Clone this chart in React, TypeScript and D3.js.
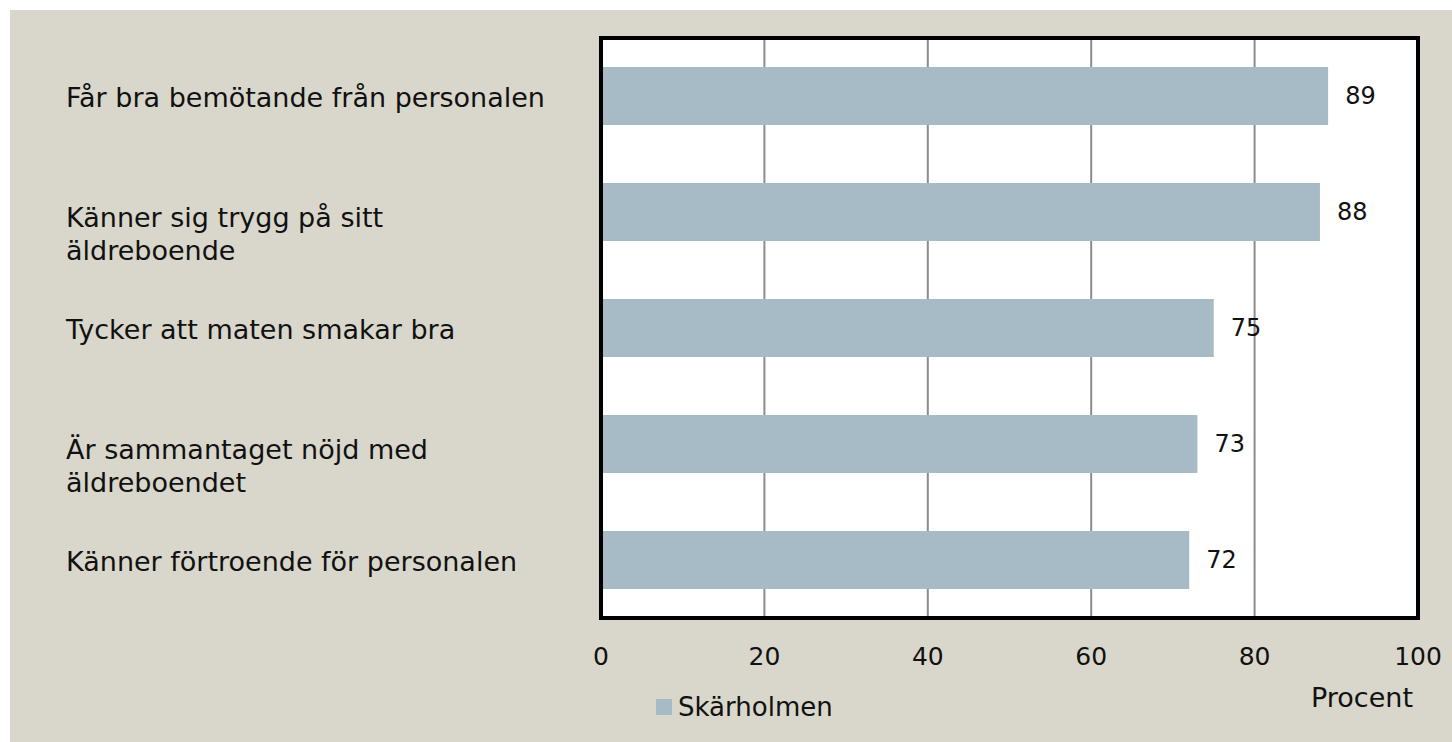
import { scaleBand, scaleLinear } from "d3";

const categories = [
  ["Får bra bemötande från personalen"],
  ["Känner sig trygg på sitt", "äldreboende"],
  ["Tycker att maten smakar bra"],
  ["Är sammantaget nöjd med", "äldreboendet"],
  ["Känner förtroende för personalen"],
];
const values = [89, 88, 75, 73, 72];
const xTicks = [0, 20, 40, 60, 80, 100];
const seriesName = "Skärholmen";
const axisTitle = "Procent";

const W = 1452;
const H = 742;
const plot = { left: 601, right: 1418, top: 38, bottom: 618 };
const FONT = "'DejaVu Sans', sans-serif";
const BAR = "#a7bbc6";
const BG = "#d9d7cb";
const INK = "#111";

export default function App() {
  const x = scaleLinear().domain([0, 100]).range([plot.left, plot.right]);
  const y = scaleBand<number>()
    .domain(values.map((_, i) => i))
    .range([plot.top, plot.bottom])
    .paddingInner(0.5)
    .paddingOuter(0.25);

  return (
    <svg
      width={W}
      height={H}
      style={{ position: "absolute", left: 0, top: 0, background: "#fff" }}
      fontFamily={FONT}
    >
      <rect x={10} y={10} width={W - 10} height={H - 10} fill={BG} />
      <rect
        x={plot.left}
        y={plot.top}
        width={plot.right - plot.left}
        height={plot.bottom - plot.top}
        fill="#fff"
      />
      {/* grid */}
      {xTicks.slice(1, -1).map((t) => (
        <line
          key={t}
          x1={x(t)}
          x2={x(t)}
          y1={plot.top}
          y2={plot.bottom}
          stroke="#8c8c8c"
          strokeWidth={2}
        />
      ))}
      {/* bars */}
      {values.map((v, i) => (
        <rect
          key={i}
          x={x(0)}
          y={y(i)}
          width={x(v) - x(0)}
          height={y.bandwidth()}
          fill={BAR}
        />
      ))}
      {/* frame */}
      <rect
        x={plot.left}
        y={plot.top}
        width={plot.right - plot.left}
        height={plot.bottom - plot.top}
        fill="none"
        stroke="#000"
        strokeWidth={4}
      />
      {/* value labels */}
      {values.map((v, i) => (
        <text
          key={i}
          x={x(v) + 17}
          y={y(i)! + y.bandwidth() / 2}
          dy="0.35em"
          fontSize={24}
          fill={INK}
        >
          {v}
        </text>
      ))}
      {/* category labels (wrapped ones sit a bit lower, like the original) */}
      {categories.map((lines, i) => {
        const cy = y(i)! + y.bandwidth() / 2;
        const base = lines.length > 1 ? cy + 15 : cy + 11;
        return (
          <text key={i} fontSize={27} fill={INK}>
            {lines.map((l, j) => (
              <tspan key={j} x={66} y={base + j * 33}>
                {l}
              </tspan>
            ))}
          </text>
        );
      })}
      {/* x tick labels */}
      {xTicks.map((t) => (
        <text
          key={t}
          x={x(t)}
          y={665}
          textAnchor="middle"
          fontSize={25}
          fill={INK}
        >
          {t}
        </text>
      ))}
      <text x={1413} y={707} textAnchor="end" fontSize={27} fill={INK}>
        {axisTitle}
      </text>
      {/* legend */}
      <rect x={656} y={699} width={16} height={16} fill={BAR} />
      <text x={678} y={716} fontSize={26} fill={INK}>
        {seriesName}
      </text>
    </svg>
  );
}
